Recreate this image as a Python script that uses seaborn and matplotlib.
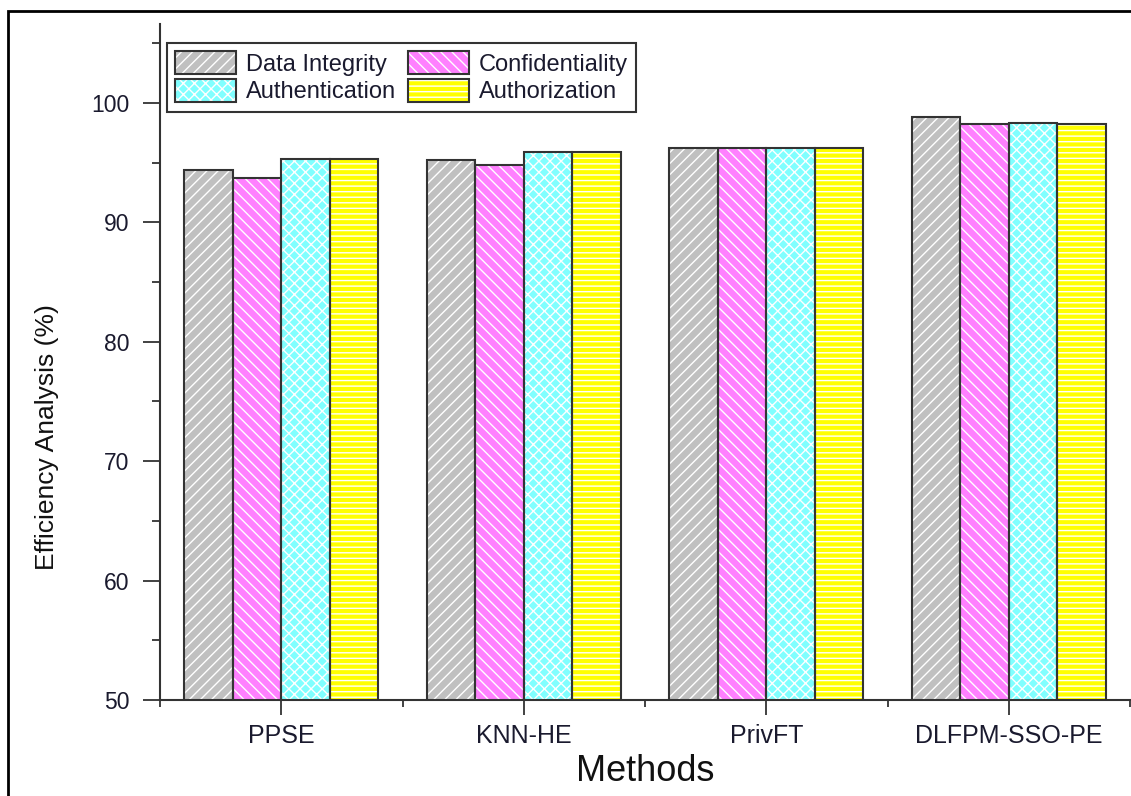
import matplotlib
matplotlib.use("Agg")
import matplotlib.pyplot as plt
from matplotlib.patches import Patch, Rectangle
from matplotlib.ticker import MultipleLocator, FixedLocator
import numpy as np
import pandas as pd
import seaborn as sns

# values
methods = ["PPSE", "KNN-HE", "PrivFT", "DLFPM-SSO-PE"]
metrics = ["Data Integrity", "Confidentiality", "Authentication", "Authorization"]
data_integrity = [94.4, 95.2, 96.2, 98.8]
confidentiality = [93.7, 94.8, 96.2, 98.2]
authentication = [95.3, 95.9, 96.2, 98.3]
authorization = [95.3, 95.9, 96.2, 98.2]

colors = ["#C0C0C0", "#FF80FF", "#80FFFF", "#FFFF00"]
hatches = ["///", "\\\\\\", "xxx", "---"]
dark = "#333333"

df = pd.DataFrame({
    "Method": methods * 4,
    "Metric": np.repeat(metrics, len(methods)),
    "Value": data_integrity + confidentiality + authentication + authorization,
})

sns.set_style("ticks")
plt.rcParams["font.family"] = ["Liberation Sans", "DejaVu Sans"]
plt.rcParams["hatch.linewidth"] = 1.0
plt.rcParams["hatch.color"] = "white"

fig = plt.figure(figsize=(11.31, 7.96), dpi=100)
ax = fig.add_axes([160 / 1131, 1 - 700 / 796, 970 / 1131, 676 / 796])

# hatched fill (white hatch lines)
sns.barplot(data=df, x="Method", y="Value", hue="Metric", hue_order=metrics,
            palette=colors, saturation=1, width=0.8, legend=False, ax=ax,
            edgecolor="white", linewidth=0, errorbar=None)
for cont, h in zip(ax.containers[:4], hatches):
    for bar in cont:
        bar.set_hatch(h)
        bar.set_edgecolor("white")
        bar.set_linewidth(0)

# dark outlines on top
sns.barplot(data=df, x="Method", y="Value", hue="Metric", hue_order=metrics,
            palette=colors, saturation=1, width=0.8, legend=False, ax=ax,
            fill=False, errorbar=None)
for cont in ax.containers[4:]:
    for bar in cont:
        bar.set_facecolor("none")
        bar.set_edgecolor(dark)
        bar.set_linewidth(1.5)

ax.set_ylim(50, 106.6)
ax.set_xlim(-0.5, len(methods) - 0.5)
ax.yaxis.set_major_locator(MultipleLocator(10))
ax.yaxis.set_minor_locator(MultipleLocator(5))
ax.xaxis.set_minor_locator(FixedLocator(np.arange(len(methods) + 1) - 0.5))

sns.despine(ax=ax)
for s in ["left", "bottom"]:
    ax.spines[s].set_linewidth(1.5)
    ax.spines[s].set_color(dark)

ax.tick_params(axis="y", which="major", direction="out", length=12, width=1.3,
               color=dark, labelsize=16.5, pad=10, labelcolor="#1a1a2e")
ax.tick_params(axis="y", which="minor", direction="out", length=6, width=1.3, color=dark)
ax.tick_params(axis="x", which="major", direction="out", length=11, width=1.3,
               color=dark, labelsize=18, pad=6, labelcolor="#1a1a2e")
ax.tick_params(axis="x", which="minor", direction="out", length=5, width=1.3, color=dark)

ax.set_xlabel("Methods", fontsize=26, color="#111111")
ax.set_ylabel("Efficiency Analysis (%)", fontsize=19, color="#111111")
ax.xaxis.set_label_coords(0.5, -0.08)
ax.yaxis.set_label_coords(-0.104, 0.389)

# legend: hatched patch with outline on top
handles = [(Patch(facecolor=c, edgecolor="white", hatch=h, linewidth=0),
            Patch(facecolor="none", edgecolor=dark, linewidth=1.5))
           for c, h in zip(colors, hatches)]
order = [0, 2, 1, 3]
leg = ax.legend([handles[i] for i in order], [metrics[i] for i in order],
                ncol=2, loc="upper left", bbox_to_anchor=(0.007, 0.972),
                borderaxespad=0, fontsize=17, frameon=True, fancybox=False,
                handlelength=2.6, handleheight=1.1, handletextpad=0.4,
                columnspacing=0.5, labelspacing=0.15, borderpad=0.35)
leg.get_frame().set_edgecolor(dark)
leg.get_frame().set_linewidth(1.5)
leg.get_frame().set_alpha(1)
for t in leg.get_texts():
    t.set_color("#1a1a2e")

# outer frame of the page figure
fig.add_artist(Rectangle((8 / 1131, -0.05), 1.1, 1.05 - 11 / 796,
                         transform=fig.transFigure, fill=False,
                         linewidth=2, edgecolor="black"))

fig.savefig("out.png", dpi=100)
